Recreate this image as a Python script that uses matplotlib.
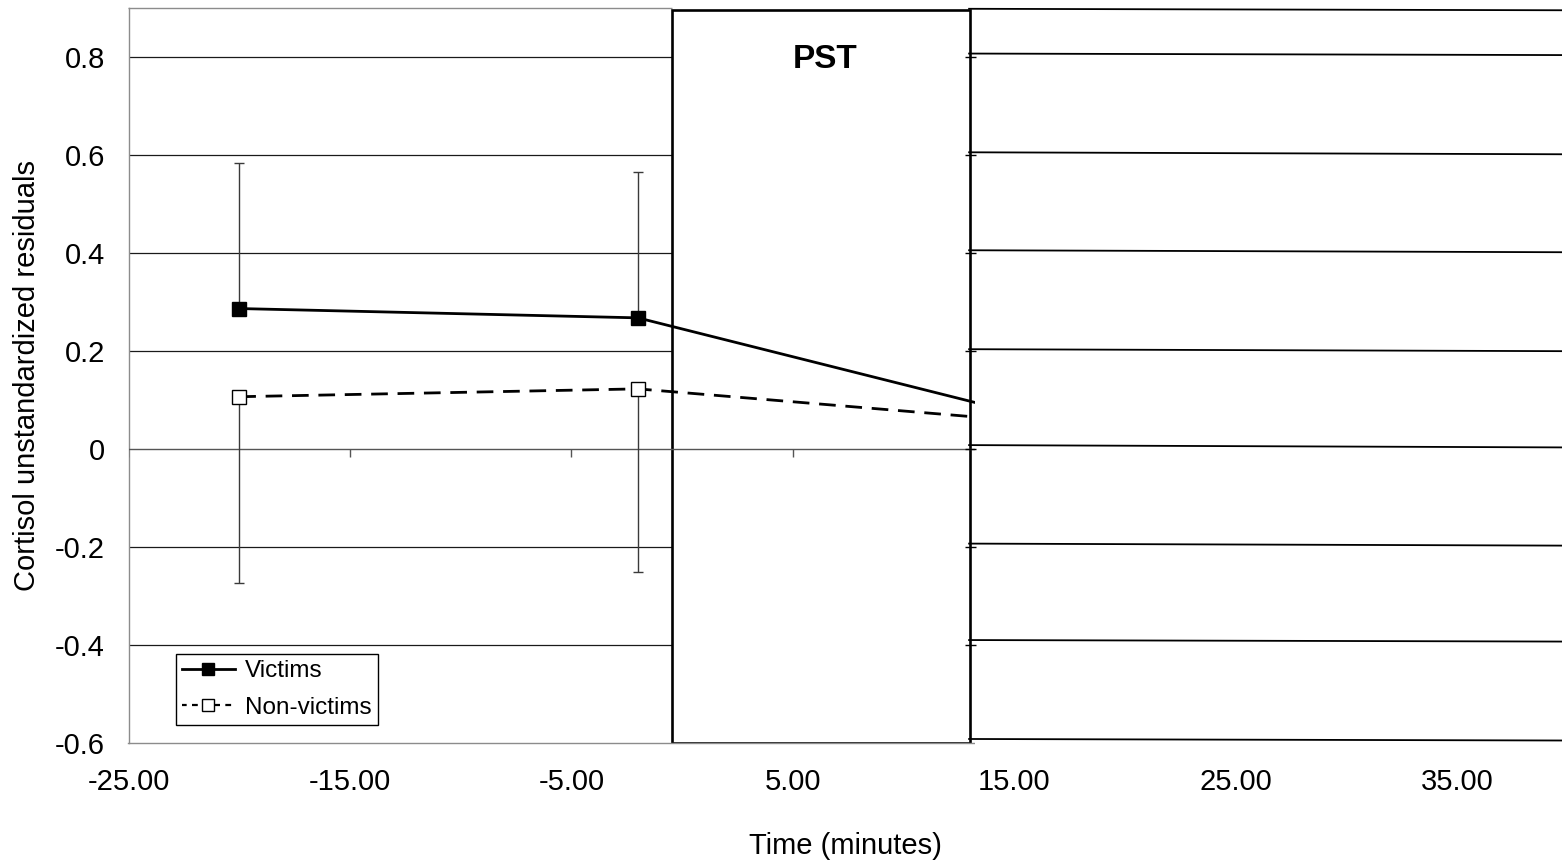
import numpy as np
import matplotlib
matplotlib.use("Agg")
import matplotlib.pyplot as plt
from matplotlib.patches import Rectangle

plt.rcParams['font.family'] = ['Liberation Sans', 'DejaVu Sans']
plt.rcParams['axes.unicode_minus'] = False

# data
time = [-20, -2, 15]
victims = [0.287, 0.268, 0.075]
non_victims = [0.107, 0.123, 0.059]
victims_err_up = [0.297, 0.297, 0.0]
non_victims_err_down = [0.380, 0.373, 0.0]

xticks = [-25, -15, -5, 5, 15, 25, 35]
xtick_labels = ['-25.00', '-15.00', '-5.00', '5.00', '15.00', '25.00', '35.00']
yticks = [-0.6, -0.4, -0.2, 0, 0.2, 0.4, 0.6, 0.8]
ytick_labels = ['-0.6', '-0.4', '-0.2', '0', '0.2', '0.4', '0.6', '0.8']

pst_start, pst_end = -0.47, 13.0
cut_x = 13.2  # everything right of this is a pasted strip

# the pasted strip on the right: slightly tilted copies of the grid
ghost_left = [0.899, 0.8076, 0.606, 0.406, 0.204, 0.0082, -0.1929, -0.3898, -0.5918]
ghost_right = [0.896, 0.8045, 0.602, 0.402, 0.200, 0.0035, -0.1970, -0.3929, -0.5949]

fig = plt.figure(figsize=(15.62, 8.63), dpi=100)
ax = fig.add_axes([128.5 / 1562, (863 - 743) / 863, (1562 - 128.5) / 1562, (743 - 8.3) / 863])
xmin, xmax = -25, -25 + (1562 - 128.5) / 22.15
ymin, ymax = -0.6, 0.9
ax.set_xlim(xmin, xmax)
ax.set_ylim(ymin, ymax)

for s in ['top', 'right']:
    ax.spines[s].set_visible(False)
for s in ['left', 'bottom']:
    ax.spines[s].set_color('#8c8c8c')
    ax.spines[s].set_linewidth(1.0)
ax.spines['bottom'].set_bounds(xmin, cut_x)
ax.hlines(ymax, xmin, pst_start, color='#8c8c8c', lw=1.0, clip_on=False, zorder=1)

ax.set_xticks(xticks)
ax.set_xticklabels(xtick_labels)
ax.set_yticks(yticks)
ax.set_yticklabels(ytick_labels)
ax.tick_params(axis='both', length=0, labelsize=21)
ax.tick_params(axis='y', pad=17)
ax.tick_params(axis='x', pad=18)

# gridlines (hidden behind the PST box)
for y in yticks[1:]:
    if y == 0:
        continue
    end = 0.25 if y == 0.8 else pst_start
    ax.hlines(y, xmin, end, color='#1a1a1a', lw=0.9, zorder=1)

ax.add_patch(Rectangle((pst_start, ymin), pst_end - pst_start, 0.896 - ymin,
                       facecolor='white', edgecolor='black', lw=1.9, zorder=2))
ax.text((pst_start + pst_end) / 2 + 0.2, 0.795, 'PST', fontsize=24, fontweight='bold',
        ha='center', va='center', zorder=3)

# x axis crossing at zero with tick marks
ax.hlines(0, xmin, cut_x, color='#555555', lw=1.0, zorder=3)
ax.vlines([t for t in xticks if t < cut_x], 0, -0.0165, color='#555555', lw=1.0, zorder=3)

ax.errorbar(time, victims, yerr=[[0] * 3, victims_err_up], fmt='none',
            ecolor='#3a3a3a', elinewidth=1.0, capsize=3.6, capthick=1.0, zorder=3)
ax.errorbar(time, non_victims, yerr=[non_victims_err_down, [0] * 3], fmt='none',
            ecolor='#3a3a3a', elinewidth=1.0, capsize=3.6, capthick=1.0, zorder=3)

ax.plot(time, victims, color='black', lw=2.0, marker='s', markersize=9.5,
        markerfacecolor='black', markeredgecolor='black', label='Victims', zorder=4)
ax.plot(time, non_victims, color='black', lw=2.0, linestyle=(0, (6, 3.5)), marker='s',
        markersize=9.5, markerfacecolor='white', markeredgecolor='black', markeredgewidth=1.0,
        label='Non-victims', zorder=4)

# pasted strip on the right
ax.add_patch(Rectangle((cut_x, ymin - 0.004), xmax - cut_x + 1, ymax - ymin + 0.008,
                       facecolor='white', edgecolor='none', zorder=5, clip_on=False))
for yl, yr in zip(ghost_left, ghost_right):
    ax.plot([12.95, xmax], [yl, yr], color='black', lw=1.3, zorder=6, clip_on=False)
for y in yticks[1:]:
    ax.hlines(y, 12.75, 13.25, color='black', lw=1.0, zorder=6)

leg = ax.legend(loc='lower left', bbox_to_anchor=(0.0329, 0.0245), borderaxespad=0,
                fontsize=17.5, frameon=True, fancybox=False, framealpha=1, edgecolor='black',
                handlelength=2.2, handletextpad=0.4, borderpad=0.25, labelspacing=0.6,
                markerscale=0.85)
leg.get_frame().set_linewidth(1.0)
leg.set_zorder(7)
leg.get_lines()[1].set_linestyle((0.5, (2.6, 2.4)))
leg.get_lines()[1].set_linewidth(1.6)

ax.set_ylabel('Cortisol unstandardized residuals', fontsize=21, labelpad=10)
ax.set_xlabel('Time (minutes)', fontsize=21, labelpad=26)

fig.savefig('out.png', dpi=100)
